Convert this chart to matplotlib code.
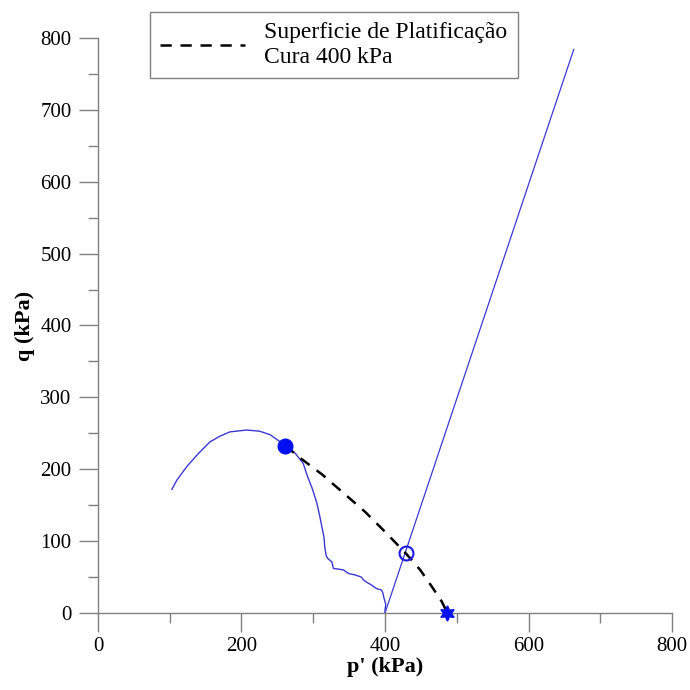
import matplotlib.pyplot as plt
from matplotlib.ticker import MultipleLocator

plt.rcParams['font.family'] = ['Liberation Serif', 'DejaVu Serif']

# trajetoria de tensoes (ensaio) - p', q em kPa
p_traj = [103, 110, 124, 140, 156, 170, 184, 207, 225, 240, 261, 275, 286, 292, 299,
          305, 309, 312, 315, 316, 318, 320, 326, 328, 335, 342, 349, 358, 367,
          370, 374, 381, 388, 395, 397, 398, 401, 400, 400]
q_traj = [172, 185, 204, 222, 238, 246, 252, 254.5, 253, 248, 233, 222, 208, 190, 172,
          153, 135, 120, 105, 92, 80, 76, 71, 62, 61, 60, 55, 53, 50,
          46, 43, 39, 34, 32, 28, 23, 12, 4, 0]

# trajetoria drenada
p_dren = [400, 663]
q_dren = [0, 784]

# superficie de plastificacao
p_sup = [261, 280, 312, 342, 372, 398, 429, 449, 465, 479, 487]
q_sup = [233, 217, 193, 167, 141, 115, 83, 60, 37, 16, 0]

# pontos destacados
p_ini, q_ini = 261, 233
p_int, q_int = 429, 83
p_iso, q_iso = 487, 0

fig = plt.figure(figsize=(6.9, 6.9), dpi=100)
ax = fig.add_axes([0.142, 0.1116, 0.832, 0.8334])

azul = '#3a3ad0'
ax.plot(p_traj, q_traj, color=azul, lw=1.0)
ax.plot(p_dren, q_dren, color=azul, lw=0.9)
ax.plot(p_sup, q_sup, color='black', lw=1.8, linestyle=(0, (4.5, 3.5)),
        label='Superficie de Platificação\nCura 400 kPa')
ax.plot(p_ini, q_ini, 'o', color='#0010f0', markersize=10.5, zorder=5)
ax.plot(p_int, q_int, 'o', mfc='none', mec='#1a1ae0', mew=1.5, markersize=10, zorder=5)
ax.plot(p_iso, q_iso, marker=(6, 1, 0), color='#0010f0', markersize=11, zorder=5,
        clip_on=False, linestyle='none')

ax.set_xlim(0, 800)
ax.set_ylim(0, 800)
ax.xaxis.set_major_locator(MultipleLocator(200))
ax.xaxis.set_minor_locator(MultipleLocator(100))
ax.yaxis.set_major_locator(MultipleLocator(100))
ax.yaxis.set_minor_locator(MultipleLocator(50))

for s in ['top', 'right']:
    ax.spines[s].set_visible(False)
for s in ['left', 'bottom']:
    ax.spines[s].set_color('#808080')
    ax.spines[s].set_linewidth(1.0)

ax.tick_params(which='major', direction='out', length=14, width=1.0, color='#808080',
               labelsize=15, pad=5)
ax.tick_params(axis='x', which='major', pad=3)
ax.tick_params(which='minor', direction='out', length=7, width=1.0, color='#808080')

ax.set_xlabel("p' (kPa)", fontsize=16, fontweight='bold', labelpad=1)
ax.set_ylabel('q (kPa)', fontsize=16, fontweight='bold', labelpad=4)

leg = ax.legend(loc='upper left', bbox_to_anchor=(0.217, 0.983),
                bbox_transform=fig.transFigure, fontsize=17, handlelength=3.6,
                fancybox=False, framealpha=1, edgecolor='#808080',
                borderpad=0.45, handletextpad=0.8, borderaxespad=0)
leg.get_frame().set_linewidth(1.0)

plt.savefig('out.png', dpi=100)
